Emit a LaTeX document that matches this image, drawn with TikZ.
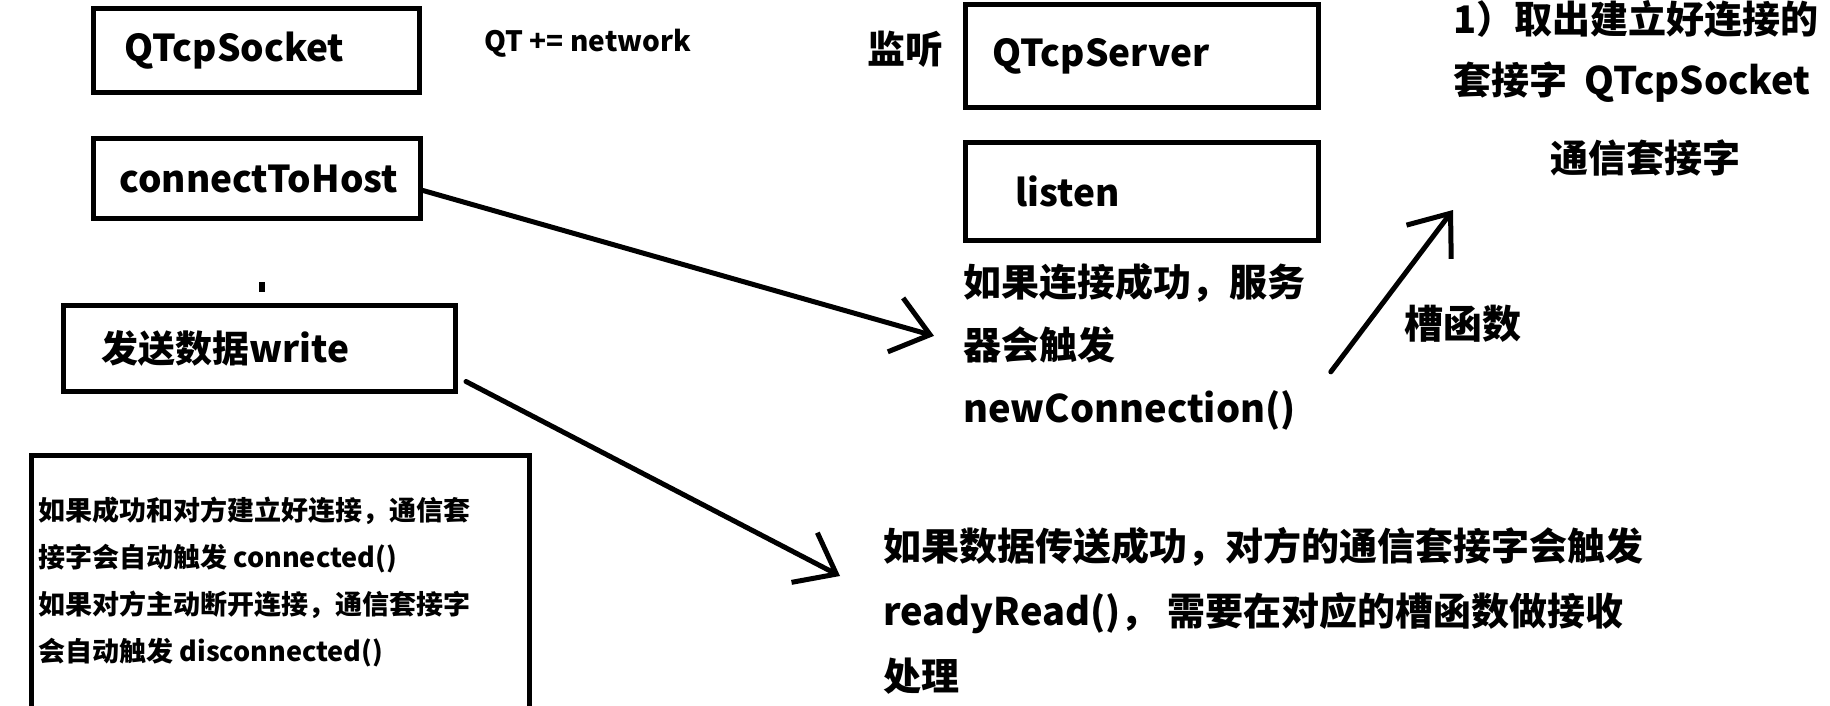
\documentclass[tikz,border=0pt]{standalone}
\usepackage{fontspec}
\setmainfont{Noto Sans CJK SC}
\usetikzlibrary{arrows.meta,positioning}
\tikzset{
  box/.style  ={draw=black,line width=2.5pt,anchor=north west,inner ysep=0pt,
                align=left,font=\bfseries\fontsize{18.5}{22}\selectfont},
  note/.style ={anchor=north west,inner sep=0pt,align=left,
                font=\bfseries\fontsize{13.5}{23.5}\selectfont},
  say/.style  ={anchor=north west,inner sep=0pt,align=left,
                font=\bfseries\fontsize{19}{31.5}\selectfont},
  flow/.style ={-{Straight Barb[length=18pt,width=28pt]},line width=2.5pt,
                line cap=round,draw=black}
}
\begin{document}
\begin{tikzpicture}[x=0.5pt,y=-0.5pt]
  \useasboundingbox[fill=white] (0,0) rectangle (1830,706);
  \clip (0,0) rectangle (1830,706);
  % client side
  \node[box,inner xsep=15.5pt,text width=132pt,minimum height=42pt] (sock) at (91,6) {QTcpSocket};
  \node[box,inner xsep=13pt,text width=137.5pt,minimum height=40pt,
        below=20.5pt of sock.south west,anchor=north west] (conn) {connectToHost};
  \node[fill=black,inner sep=0pt,minimum width=3pt,minimum height=5pt] (dot) at (262,287) {};
  \node[box,inner xsep=19pt,text width=158pt,minimum height=43pt] (write) at (61,303) {发送数据write};
  \node[draw=black,line width=2.5pt,anchor=north west,minimum width=249pt,
        minimum height=140pt] (notebox) at (29,453) {};
  \node[note] (notetext) at (38,497) {如果成功和对方建立好连接，通信套\\接字会自动触发 connected()\\
        如果对方主动断开连接，通信套接字\\会自动触发 disconnected()};
  \node[anchor=west,inner sep=0pt,font=\bfseries\fontsize{14}{16}\selectfont] (qtnet) at (484,43) {QT += network};
  % server side
  \node[anchor=west,inner sep=0pt,font=\bfseries\fontsize{19}{22}\selectfont] (jianting) at (867,49) {监听};
  \node[box,inner xsep=13.5pt,text width=149.5pt,minimum height=51.5pt] (srv) at (963,2)
        {\raisebox{3pt}{QTcpServer}};
  \node[box,inner xsep=25pt,text width=126.5pt,minimum height=49pt,
        below=15pt of srv.south west,anchor=north west] (listen) {listen};
  \node[say] (srvtext) at (963,263) {如果连接成功，服务\\器会触发\\newConnection()};
  \node[anchor=west,inner sep=0pt,font=\bfseries\fontsize{19.5}{22}\selectfont] (slot) at (1404,324) {槽函数};
  \node[say,font=\bfseries\fontsize{19}{30.5}\selectfont] (accept) at (1453,0) {1）取出建立好连接的\\套接字\ \ QTcpSocket};
  \node[anchor=west,inner sep=0pt,font=\bfseries\fontsize{19}{22}\selectfont] (comm) at (1550,158) {通信套接字};
  \node[say,font=\bfseries\fontsize{19}{32.5}\selectfont] (recv) at (883,527)
        {如果数据传送成功，对方的通信套接字会触发\\readyRead()，\ 需要在对应的槽函数做接收\\处理};
  \coordinate (slottip) at (1453,210);
  \draw[flow] ([yshift=-6pt]conn.east) -- ([shift={(-14.5pt,5.5pt)}]srvtext.west);
  \draw[flow] ([shift={(4pt,-16.5pt)}]write.east) -- ([shift={(-21.5pt,-24.5pt)}]recv.north west);
  \draw[flow] ([shift={(12.5pt,-12.5pt)}]srvtext.east) -- (slottip);
\end{tikzpicture}
\end{document}
